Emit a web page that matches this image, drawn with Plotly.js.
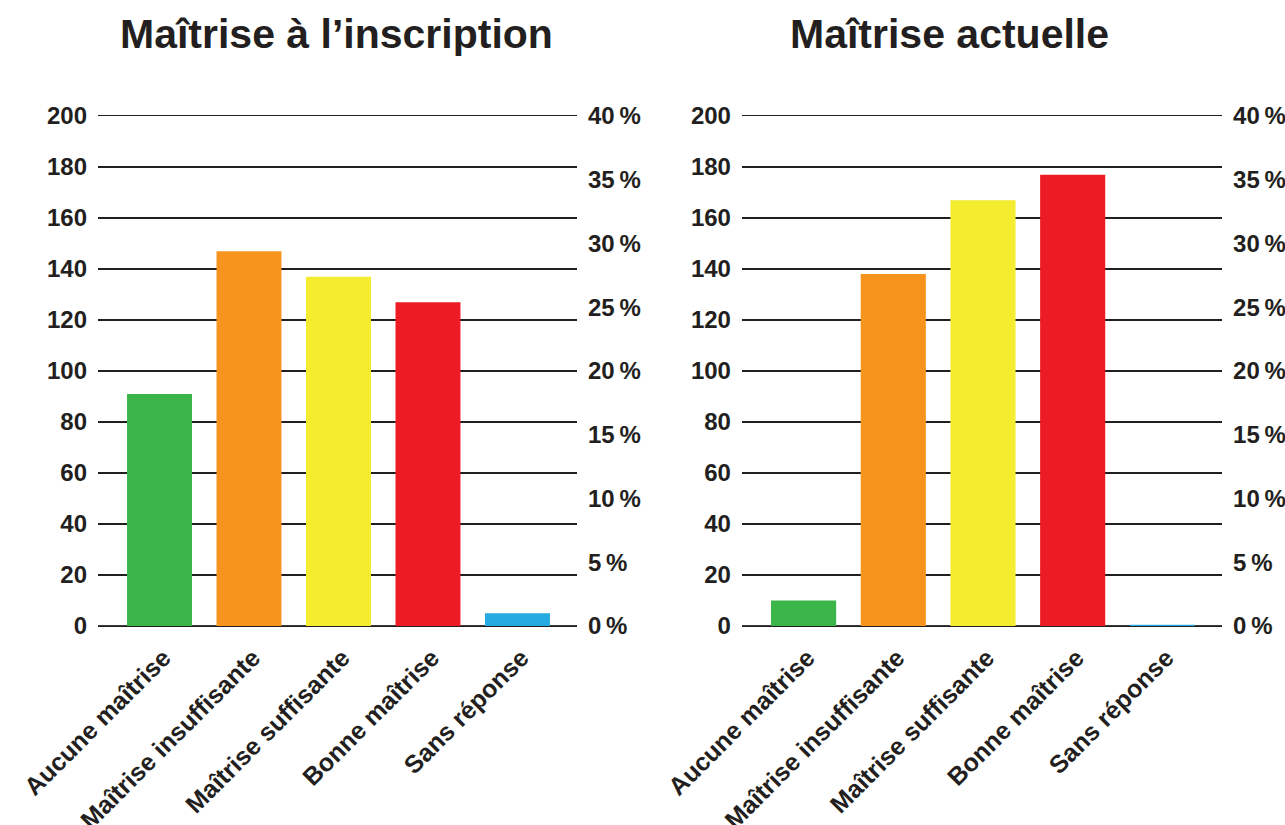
<!DOCTYPE html>
<html>
<head>
<meta charset="utf-8">
<script src="https://cdn.plot.ly/plotly-3.0.1.min.js"></script>
<style>
  html, body { margin: 0; padding: 0; background: #ffffff; }
  #chart { width: 1285px; height: 825px; }
</style>
</head>
<body>
<div id="chart"></div>
<script>
// Categories of self-assessed proficiency
const categories = ['Aucune maîtrise', 'Maîtrise insuffisante', 'Maîtrise suffisante', 'Bonne maîtrise', 'Sans réponse'];

// Number of respondents per category
const atEnrolment = [91, 147, 137, 127, 5];
const currentLevel = [10, 138, 167, 177, 0.5];

// Titles of the two panels
const panelTitles = ['Maîtrise à l’inscription', 'Maîtrise actuelle'];

// One colour per category
const barColors = ['#3bb54a', '#f7941d', '#f3ec2f', '#ed1c24', '#27aae1'];

const ink = '#231f20';
const fontFamily = '"Liberation Sans", Arial, sans-serif';
const tickFont = { family: fontFamily, size: 24, color: ink, weight: 700 };

// Left count axis (0–200) and right share axis (0–40 %)
function countAxis(anchor) {
  return {
    anchor: anchor,
    domain: [0.2412, 0.8594],
    range: [0, 200],
    dtick: 20,
    showgrid: true,
    gridcolor: ink,
    gridwidth: 1.2,
    zeroline: true,
    zerolinecolor: '#3a3a3a',
    zerolinewidth: 1.3,
    showline: false,
    ticks: '',
    ticklabelstandoff: 10,
    tickfont: tickFont,
    fixedrange: true
  };
}
function shareAxis(anchor, over) {
  return {
    anchor: anchor,
    overlaying: over,
    side: 'right',
    range: [0, 40],
    dtick: 5,
    ticksuffix: '\u2009%',
    showgrid: false,
    zeroline: false,
    showline: false,
    ticks: '',
    ticklabelstandoff: 10,
    tickfont: tickFont,
    fixedrange: true
  };
}
// Category axis; its mirrored line closes the top of the grid at 200
function categoryAxis(domain, anchor) {
  return {
    anchor: anchor,
    domain: domain,
    type: 'category',
    range: [-0.687, 4.665],
    tickangle: -45,
    ticks: '',
    showgrid: false,
    zeroline: false,
    showline: true,
    mirror: true,
    linecolor: ink,
    linewidth: 1.2,
    ticklabelstandoff: 6,
    ticklabelshift: 4,
    tickfont: { family: fontFamily, size: 25, color: ink, weight: 700 },
    fixedrange: true
  };
}

const traces = [
  {
    type: 'bar', x: categories, y: atEnrolment, xaxis: 'x', yaxis: 'y',
    marker: { color: barColors }, width: 0.726, hoverinfo: 'x+y'
  },
  {
    type: 'bar', x: categories, y: currentLevel, xaxis: 'x2', yaxis: 'y3',
    marker: { color: barColors }, width: 0.726, hoverinfo: 'x+y'
  }
];

const titleFont = { family: fontFamily, size: 41, color: ink, weight: 700 };

const layout = {
  width: 1285,
  height: 825,
  margin: { l: 0, r: 0, t: 0, b: 0 },
  paper_bgcolor: '#ffffff',
  plot_bgcolor: 'rgba(0,0,0,0)',
  showlegend: false,
  xaxis: categoryAxis([0.0763, 0.4490], 'y'),
  yaxis: countAxis('x'),
  yaxis2: shareAxis('x', 'y'),
  xaxis2: categoryAxis([0.5774, 0.9510], 'y3'),
  yaxis3: countAxis('x2'),
  yaxis4: shareAxis('x2', 'y3'),
  annotations: [
    {
      text: panelTitles[0], xref: 'paper', yref: 'paper',
      x: 336 / 1285, y: 1 - 34 / 825, xanchor: 'center', yanchor: 'middle',
      showarrow: false, font: titleFont
    },
    {
      text: panelTitles[1], xref: 'paper', yref: 'paper',
      x: 949 / 1285, y: 1 - 34 / 825, xanchor: 'center', yanchor: 'middle',
      showarrow: false, font: titleFont
    }
  ]
};

// The share axes carry no trace of their own; give each an invisible one so they render
traces.push(
  { type: 'scatter', x: [categories[0]], y: [0], xaxis: 'x', yaxis: 'y2', mode: 'markers',
    marker: { opacity: 0 }, hoverinfo: 'skip', showlegend: false },
  { type: 'scatter', x: [categories[0]], y: [0], xaxis: 'x2', yaxis: 'y4', mode: 'markers',
    marker: { opacity: 0 }, hoverinfo: 'skip', showlegend: false }
);

Plotly.newPlot('chart', traces, layout, { displayModeBar: false, staticPlot: true });
</script>
</body>
</html>
